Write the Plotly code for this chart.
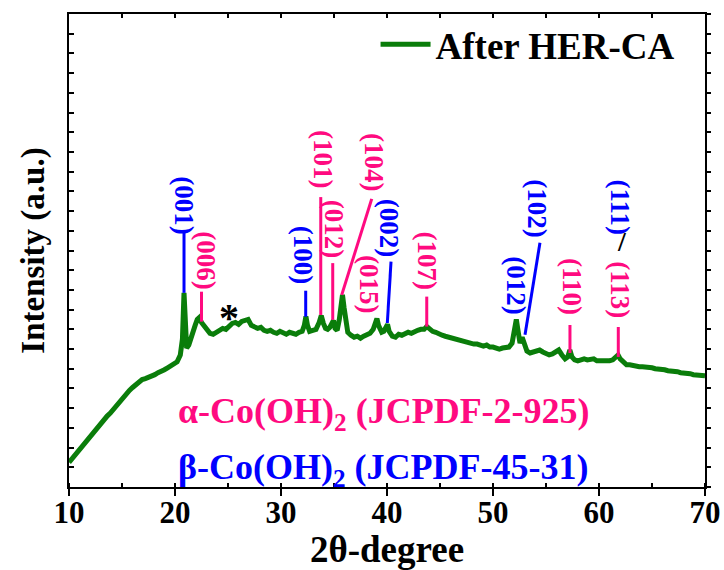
import plotly.graph_objects as go

# ---- data (2theta in degrees, intensity in arbitrary units) ----
two_theta = [10.0, 10.3, 10.6, 10.9, 11.2, 11.5, 11.8, 12.1, 12.4, 12.7, 13.0, 13.3, 13.6, 13.9,
             14.2, 14.5, 14.8, 15.1, 15.4, 15.7, 16.0, 16.3, 16.6, 16.9, 17.2, 17.5, 17.8, 18.1,
             18.4, 18.7, 19.0, 19.3, 19.6, 19.9, 20.2, 20.5, 20.7, 20.85, 20.95, 21.1, 21.3, 21.5,
             21.7, 21.9, 22.1, 22.3, 22.5, 22.7, 22.9, 23.1, 23.3, 23.6, 23.9, 24.2, 24.5, 24.8,
             25.1, 25.4, 25.7, 26.0, 26.3, 26.6, 26.9, 27.2, 27.5, 27.8, 28.1, 28.4, 28.7, 29.0,
             29.3, 29.6, 29.9, 30.2, 30.5, 30.8, 31.1, 31.4, 31.7, 32.0, 32.2, 32.35, 32.5, 32.7,
             33.0, 33.3, 33.6, 33.8, 34.0, 34.2, 34.4, 34.6, 34.8, 34.95, 35.1, 35.3, 35.5, 35.7,
             35.8, 35.95, 36.1, 36.3, 36.6, 36.9, 37.2, 37.5, 37.8, 38.1, 38.4, 38.7, 38.9, 39.05,
             39.2, 39.5, 39.7, 39.9, 40.05, 40.2, 40.5, 40.8, 41.1, 41.4, 41.7, 42.0, 42.3, 42.6,
             42.9, 43.2, 43.5, 43.75, 44.0, 44.3, 44.6, 44.9, 45.2, 45.5, 45.8, 46.1, 46.4, 46.7,
             47.0, 47.3, 47.6, 47.9, 48.2, 48.5, 48.8, 49.1, 49.4, 49.7, 50.0, 50.3, 50.6, 50.9,
             51.2, 51.5, 51.8, 52.0, 52.2, 52.4, 52.55, 52.75, 52.95, 53.2, 53.5, 53.8, 54.1, 54.4,
             54.7, 55.0, 55.3, 55.6, 55.9, 56.2, 56.5, 56.8, 57.05, 57.25, 57.45, 57.7, 58.0, 58.3,
             58.6, 58.9, 59.2, 59.5, 59.8, 60.1, 60.4, 60.7, 61.0, 61.3, 61.6, 61.8, 62.0, 62.3,
             62.6, 62.9, 63.2, 63.5, 63.8, 64.1, 64.4, 64.7, 65.0, 65.3, 65.6, 65.9, 66.2, 66.5,
             66.8, 67.1, 67.4, 67.7, 68.0, 68.3, 68.6, 68.9, 69.2, 69.5, 69.8, 70.0]
intensity = [1.25, 1.45, 1.6, 1.85, 2.0, 2.3, 2.4, 2.7, 2.9, 3.05, 3.3, 3.45, 3.6, 3.75,
             3.95, 4.2, 4.35, 4.55, 4.75, 4.9, 5.05, 5.2, 5.3, 5.45, 5.5, 5.55, 5.65, 5.7,
             5.8, 5.85, 5.95, 6.05, 6.15, 6.25, 6.35, 6.7, 7.5, 9.85, 8.6, 7.05, 7.2, 7.6,
             8.0, 8.2, 8.5, 8.6, 8.35, 8.2, 8.05, 7.95, 7.8, 7.75, 7.85, 7.95, 8.05, 8.0,
             8.15, 8.3, 8.35, 8.25, 8.4, 8.45, 8.5, 8.2, 8.15, 8.05, 8.1, 7.95, 7.9, 7.95,
             7.85, 7.8, 7.9, 7.8, 7.75, 7.85, 7.8, 7.75, 7.85, 7.9, 8.2, 8.65, 8.2, 7.9,
             7.95, 8.0, 8.35, 8.7, 8.3, 8.05, 8.0, 8.1, 8.3, 8.45, 8.05, 7.95, 8.5, 9.4,
             9.75, 9.1, 8.3, 7.85, 7.7, 7.6, 7.65, 7.55, 7.65, 7.7, 7.8, 8.0, 8.4, 8.55,
             8.2, 7.85, 7.9, 8.1, 8.25, 7.9, 7.65, 7.6, 7.75, 7.7, 7.8, 7.85, 7.8, 7.9,
             7.95, 8.0, 8.0, 8.15, 8.0, 7.9, 7.85, 7.75, 7.7, 7.65, 7.6, 7.55, 7.5, 7.45,
             7.45, 7.4, 7.35, 7.3, 7.25, 7.25, 7.2, 7.15, 7.2, 7.1, 7.1, 7.05, 7.0, 7.05,
             7.1, 7.1, 7.3, 7.9, 8.5, 7.8, 7.3, 7.6, 7.2, 6.9, 6.8, 6.85, 6.9, 6.95,
             6.85, 6.8, 6.7, 6.75, 6.85, 6.95, 6.7, 6.5, 6.6, 6.95, 6.6, 6.45, 6.4, 6.45,
             6.5, 6.45, 6.5, 6.5, 6.4, 6.4, 6.35, 6.35, 6.4, 6.45, 6.6, 6.7, 6.5, 6.3,
             6.2, 6.2, 6.15, 6.15, 6.1, 6.1, 6.1, 6.05, 6.05, 6.0, 6.0, 5.95, 5.95, 5.9,
             5.9, 5.85, 5.85, 5.8, 5.8, 5.75, 5.75, 5.7, 5.7, 5.7, 5.65, 5.65]

# peak index labels: text, phase, label centre (x, y), connector start (x, y) -> end (x, y)
label_text = ["(001)", "(006)", "(100)", "(101)", "(012)", "(104)", "(015)", "(002)",
              "(107)", "(012)", "(102)", "(110)", "(113)", "(111)"]
label_phase = ["b", "a", "b", "a", "a", "a", "a", "b", "a", "b", "b", "a", "a", "b"]
label_x = [20.85, 22.85, 32.05, 33.95, 35.0, 38.75, 38.3, 40.2, 43.75, 52.15, 54.15, 57.45, 61.95, 61.95]
label_y = [14.3, 11.5, 11.8, 16.65, 13.1, 16.5, 10.3, 13.15, 11.5, 10.25, 14.15, 10.15, 10.0, 14.2]
line_x0 = [20.85, 22.5, 32.33, 33.75, 34.88, 38.56, None, 40.38, 43.75, None, 54.43, 57.26, 61.82, None]
line_y0 = [12.94, 9.91, 9.96, 14.71, 11.36, 14.62, None, 11.44, 9.66, None, 12.39, 8.22, 8.12, None]
line_x1 = [20.85, 22.5, 32.33, 33.75, 34.88, 35.73, None, 40.03, 43.75, None, 53.02, 57.26, 61.82, None]
line_y1 = [9.85, 8.39, 8.64, 8.73, 8.48, 9.75, None, 8.32, 8.14, None, 7.72, 6.8, 6.6, None]

phase_text = ["α-Co(OH)<sub>2</sub> (JCPDF-2-925)", "β-Co(OH)<sub>2</sub> (JCPDF-45-31)"]
series_name = "After HER-CA"

PINK = "#FF0A80"
BLUE = "#0000FF"
GREEN = "#0A7D0A"
FONT = "Liberation Serif"
colour = {"a": PINK, "b": BLUE}

fig = go.Figure()
fig.add_trace(go.Scatter(x=two_theta, y=intensity, mode="lines", name=series_name,
                         line=dict(color=GREEN, width=5)))
# invisible trace to carry the mirrored top/right axes
fig.add_trace(go.Scatter(x=[10, 70], y=[0, 24], xaxis="x2", yaxis="y2", mode="markers",
                         marker=dict(opacity=0), showlegend=False, hoverinfo="skip"))

annotations = []
shapes = []
for t, p, x, y, x0, y0, x1, y1 in zip(label_text, label_phase, label_x, label_y,
                                       line_x0, line_y0, line_x1, line_y1):
    annotations.append(dict(x=x, y=y, xref="x", yref="y", text=t, showarrow=False, textangle=90,
                            font=dict(family=FONT, size=27, color=colour[p], weight="bold")))
    if x0 is not None:
        shapes.append(dict(type="line", xref="x", yref="y", x0=x0, y0=y0, x1=x1, y1=y1,
                           line=dict(color=colour[p], width=3)))

annotations.append(dict(x=62.15, y=12.45, xref="x", yref="y", text="/", showarrow=False,
                        font=dict(family=FONT, size=28, color="black", weight="bold")))
annotations.append(dict(x=25.05, y=8.6, xref="x", yref="y", text="*", showarrow=False,
                        font=dict(family=FONT, size=40, color="black", weight="bold")))
annotations.append(dict(x=20.1, y=3.75, xref="x", yref="y", text=phase_text[0], showarrow=False,
                        xanchor="left", font=dict(family=FONT, size=36, color=PINK, weight="bold")))
annotations.append(dict(x=20.1, y=0.9, xref="x", yref="y", text=phase_text[1], showarrow=False,
                        xanchor="left", font=dict(family=FONT, size=36, color=BLUE, weight="bold")))

fig.update_layout(
    width=724, height=570,
    margin=dict(l=69, r=19, t=14, b=83, autoexpand=False),
    plot_bgcolor="white", paper_bgcolor="white",
    font=dict(family=FONT, color="black"),
    showlegend=True,
    legend=dict(x=0.482, y=0.935, xanchor="left", yanchor="middle", bgcolor="rgba(0,0,0,0)",
                font=dict(family=FONT, size=37, color="black", weight="bold"),
                itemwidth=50, tracegroupgap=0),
    annotations=annotations,
    shapes=shapes,
    xaxis=dict(range=[10, 70], dtick=10, tick0=10, showline=True, linecolor="black", linewidth=2,
               ticks="outside", ticklen=7, tickwidth=2, tickcolor="black", automargin=False,
               ticklabelstandoff=-10,
               minor=dict(dtick=5, ticks="inside", ticklen=4, tickwidth=1.5, tickcolor="black"),
               showgrid=False, zeroline=False,
               tickfont=dict(family=FONT, size=31, color="black", weight="bold"),
               title=dict(text="2θ-degree", standoff=5,
                          font=dict(family=FONT, size=37, color="black", weight="bold"))),
    yaxis=dict(range=[0, 24], dtick=1, tick0=0, showline=True, linecolor="black", linewidth=2,
               ticks="inside", ticklen=5, tickwidth=1.5, tickcolor="black", showticklabels=False,
               showgrid=False, zeroline=False, automargin=False,
               title=dict(text="Intensity (a.u.)", standoff=12,
                          font=dict(family=FONT, size=33, color="black", weight="bold"))),
    xaxis2=dict(range=[10, 70], dtick=5, tick0=10, overlaying="x", side="top", showline=True,
                linecolor="black", linewidth=2, ticks="inside", ticklen=4, tickwidth=1.5,
                tickcolor="black", showticklabels=False, showgrid=False, zeroline=False,
                automargin=False),
    yaxis2=dict(range=[0, 24], dtick=1, tick0=0, overlaying="y", side="right", showline=True,
                linecolor="black", linewidth=2, ticks="outside", ticklen=4, tickwidth=1.5,
                tickcolor="black", showticklabels=False, showgrid=False, zeroline=False,
                automargin=False),
)

fig.write_html("out.html")
